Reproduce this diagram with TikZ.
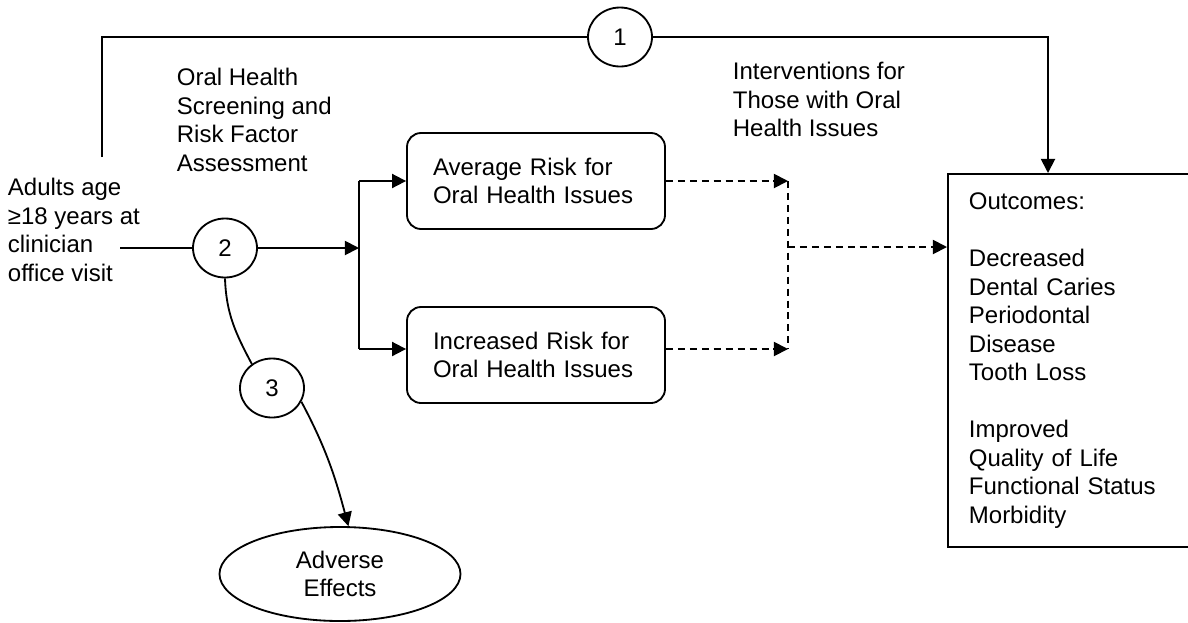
\documentclass[tikz,border=0pt]{standalone}
\usepackage{fontspec}
\setmainfont{Liberation Sans}
\usetikzlibrary{calc,shapes.geometric,arrows.meta}

\begin{document}
\begin{tikzpicture}[font=\fontsize{17.07pt}{20.27pt}\selectfont, line width=1.3pt, >={Triangle[length=10pt, width=10pt]},
  numc/.style={draw, ellipse, inner sep=0pt, minimum width=1.6cm, minimum height=1.475cm},
  riskbox/.style={draw, rounded corners=0.35cm, inner xsep=0.65cm, text width=5.15cm, minimum height=2.4cm, align=left},
  lbl/.style={inner sep=0pt, align=left}]

\clip (0, 0) rectangle (29.7, -15.55);

\node[lbl, right] (0) at (0.175, -5.75) {Adults age\\≥18 years at\\clinician\\office visit};
\node[lbl, below right] (l1) at (4.4, -1.69) {Oral Health\\Screening and\\Risk Factor\\Assessment};
\node[lbl, below right] (l2) at (18.3, -1.54) {Interventions for\\Those with Oral\\Health Issues};

\node[numc] (1) at (15.5, -0.925) {1};
\node[numc] (2) at (5.625, -6.2) {2};
\node[numc] (3) at (6.8, -9.7) {3};

\node[riskbox] (4) at (13.4, -4.525) {Average Risk for\\Oral Health Issues};
\node[riskbox] (5) at (13.4, -8.875) {Increased Risk for\\Oral Health Issues};

\node[draw, anchor=north west, inner xsep=0.525cm, inner ysep=0.4cm, text width=5.95cm, minimum height=9.325cm, align=left] (6) at (23.675, -4.325) {Outcomes:\\[\baselineskip]Decreased\\Dental Caries\\Periodontal\\Disease\\Tooth Loss\\[\baselineskip]Improved\\Quality of Life\\Functional Status\\Morbidity};

\node[draw, ellipse, inner sep=0pt, minimum width=6.025cm, minimum height=2.35cm, align=center] (7) at (8.5, -14.35) {Adverse\\Effects};

\coordinate (s) at (3.0, -6.2);
\coordinate (m) at (8.975, -6.2);
\coordinate (a) at (8.975, -4.525);
\coordinate (b) at (8.975, -8.725);
\coordinate (t) at (2.55, -3.925);
\coordinate (e) at (26.2, -4.325);

\draw (s) -- (2.west);
\draw[->] (2.east) -- (m);
\draw (a) -- (b);
\draw[->] (a) -- (4.west);
\draw[->] (b) -- (b -| 5.west);

\draw (t) |- (1.west);
\draw[->] (1.east) -| (e);

\coordinate (d1) at (19.7, -4.525);
\coordinate (d2) at (19.7, -8.725);
\coordinate (d3) at (19.7, -6.175);
\draw[->, dash pattern=on 5pt off 3.5pt] (4.east) -- (d1);
\draw[->, dash pattern=on 5pt off 3.5pt] (d2 -| 5.east) -- (d2);
\draw[dash pattern=on 5pt off 3.5pt] (d1) -- (d2);
\draw[->, dash pattern=on 5pt off 3.5pt] (d3) -- (d3 -| 6.west);

\draw (2.south) to[out=-88, in=118] (3.130);
\draw[->] (3.-25) to[out=-62, in=105] (7.80);

\end{tikzpicture}
\end{document}
